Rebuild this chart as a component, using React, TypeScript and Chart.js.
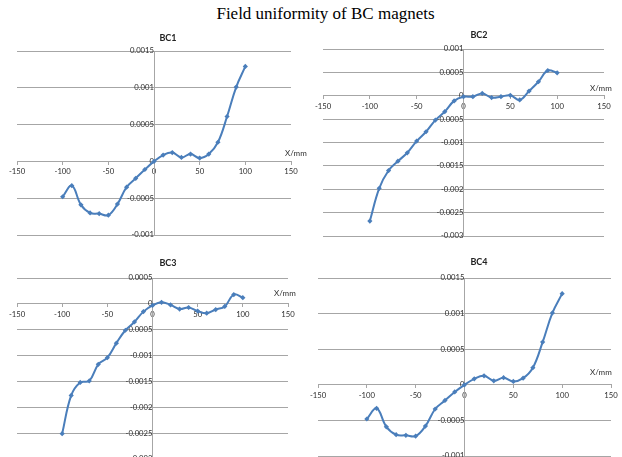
import React, { useEffect, useRef } from 'react';
import { Chart, registerables } from 'chart.js';

Chart.register(...registerables);

// ---- data ----
const positions = [-100, -90, -80, -70, -60, -50, -40, -30, -20, -10, 0, 10, 20, 30, 40, 50, 60, 70, 80, 90, 100];

const bc1Values = [-0.00048, -0.00033, -0.00059, -0.0007, -0.00071, -0.00073, -0.00058, -0.00035, -0.00023, -0.00011, 0, 0.000086, 0.00012, 0.000054, 0.0001, 0.000045, 0.0001, 0.00026, 0.00061, 0.00101, 0.00129];
const bc2Values = [-0.00268, -0.00198, -0.0016, -0.0014, -0.00122, -0.00097, -0.00077, -0.00052, -0.00034, -0.00011, -0.00002, -0.00002, 0.00005, -0.00004, -0.00002, 0.00001, -0.00009, 0.0001, 0.0003, 0.00054, 0.00049];
const bc3Values = [-0.00251, -0.00177, -0.00152, -0.00149, -0.00117, -0.00104, -0.00076, -0.00051, -0.00035, -0.00015, -0.00003, 0.00003, -0.00002, -0.0001, -0.00007, -0.00014, -0.00018, -0.00011, -0.00005, 0.00018, 0.00012];
const bc4Values = [-0.00048, -0.00033, -0.00059, -0.0007, -0.00071, -0.00072, -0.00058, -0.00034, -0.00022, -0.0001, 0, 0.000084, 0.000126, 0.000056, 0.0001, 0.000047, 0.000093, 0.00024, 0.0006, 0.00101, 0.00128];

const chartNames = ['BC1', 'BC2', 'BC3', 'BC4'];
const xMin = -150;
const xMax = 150;
const xStep = 50;
const yStep = 0.0005;
const bc1Range = [-0.001, 0.0015];
const bc2Range = [-0.003, 0.001];
const bc3Range = [-0.003, 0.0005];
const bc4Range = [-0.001, 0.0015];

const mainTitle = 'Field uniformity of BC magnets';
const xAxisName = 'X/mm';

const PAD = 24;
const LINE_COLOR = '#4a7ebb';
const GRID_COLOR = '#a6a6a6';
const TICK_COLOR = '#2e2e2e';
const TICK_FONT = 'Lato, "Open Sans", "Liberation Sans", sans-serif';
const TICK_SIZE = 7.7;

type Box = { l: number; r: number; t: number; b: number };

function fmt(v: number) {
  const n = Number(Number(v).toFixed(6));
  if (Math.abs(n) < 1e-12) return '0';
  return String(n);
}

function MiniChart({ values, range, box }: { values: number[]; range: number[]; box: Box }) {
  const ref = useRef<HTMLCanvasElement | null>(null);
  useEffect(() => {
    if (!ref.current) return;
    const chart = new Chart(ref.current, {
      type: 'line',
      data: {
        datasets: [
          {
            data: positions.map((x, i) => ({ x, y: values[i] })),
            borderColor: LINE_COLOR,
            backgroundColor: LINE_COLOR,
            borderWidth: 2,
            pointStyle: 'rectRot',
            pointRadius: 2.6,
            pointBorderWidth: 0,
            tension: 0.4,
            fill: false,
          },
        ],
      },
      options: {
        responsive: false,
        animation: false,
        events: [],
        layout: { padding: PAD },
        plugins: { legend: { display: false }, title: { display: false }, tooltip: { enabled: false } },
        scales: {
          x: {
            type: 'linear',
            position: { y: 0 } as any,
            min: xMin,
            max: xMax,
            grid: { drawOnChartArea: false, drawTicks: true, tickLength: 3, color: GRID_COLOR },
            border: { display: true, color: GRID_COLOR, width: 1 },
            ticks: {
              stepSize: xStep,
              autoSkip: false,
              maxRotation: 0,
              padding: 3,
              color: TICK_COLOR,
              font: { family: TICK_FONT, size: TICK_SIZE },
              callback: (v: any) => fmt(v),
            },
          },
          y: {
            type: 'linear',
            position: { x: 0 } as any,
            min: range[0],
            max: range[1],
            grid: { drawOnChartArea: true, drawTicks: true, tickLength: 3, color: GRID_COLOR },
            border: { display: true, color: GRID_COLOR, width: 1 },
            ticks: {
              stepSize: yStep,
              autoSkip: false,
              padding: 3,
              color: TICK_COLOR,
              font: { family: TICK_FONT, size: TICK_SIZE },
              callback: (v: any) => fmt(v),
            },
          },
        },
      },
    });
    return () => chart.destroy();
  }, [values, range]);
  const w = box.r - box.l + 2 * PAD;
  const h = box.b - box.t + 2 * PAD;
  return (
    <canvas
      ref={ref}
      width={w}
      height={h}
      style={{ position: 'absolute', left: box.l - PAD, top: box.t - PAD, width: w, height: h }}
    />
  );
}

const panels = [
  { values: bc1Values, range: bc1Range, box: { l: 17, r: 291, t: 51, b: 235 }, title: { x: 168, y: 38 }, xl: { x: 285, y: 153 } },
  { values: bc2Values, range: bc2Range, box: { l: 323, r: 604, t: 49, b: 236 }, title: { x: 479, y: 35 }, xl: { x: 590, y: 88 } },
  { values: bc3Values, range: bc3Range, box: { l: 17, r: 288, t: 278, b: 459 }, title: { x: 168, y: 263 }, xl: { x: 274, y: 293 } },
  { values: bc4Values, range: bc4Range, box: { l: 318, r: 611, t: 278, b: 456 }, title: { x: 479, y: 262 }, xl: { x: 590, y: 372 } },
];

export default function App() {
  return (
    <div
      style={{
        position: 'fixed',
        left: 0,
        top: 0,
        width: 622,
        height: 457,
        overflow: 'hidden',
        background: '#fff',
      }}
    >
      <div
        style={{
          position: 'absolute',
          left: 0,
          width: 651,
          top: 4,
          textAlign: 'center',
          fontFamily: '"Liberation Serif", "Times New Roman", serif',
          fontSize: 17,
          lineHeight: '20px',
          color: '#000',
        }}
      >
        {mainTitle}
      </div>
      {panels.map((p, i) => (
        <React.Fragment key={i}>
          <MiniChart values={p.values} range={p.range} box={p.box} />
          <div
            style={{
              position: 'absolute',
              left: p.title.x - 30,
              width: 60,
              top: p.title.y - 6,
              textAlign: 'center',
              fontFamily: TICK_FONT,
              fontWeight: 'bold',
              fontSize: 9,
              lineHeight: '12px',
              color: '#222',
            }}
          >
            {chartNames[i]}
          </div>
          <div
            style={{
              position: 'absolute',
              left: p.xl.x,
              top: p.xl.y - 6,
              fontFamily: TICK_FONT,
              fontSize: 8,
              lineHeight: '12px',
              color: TICK_COLOR,
              whiteSpace: 'nowrap',
            }}
          >
            {xAxisName}
          </div>
        </React.Fragment>
      ))}
    </div>
  );
}
